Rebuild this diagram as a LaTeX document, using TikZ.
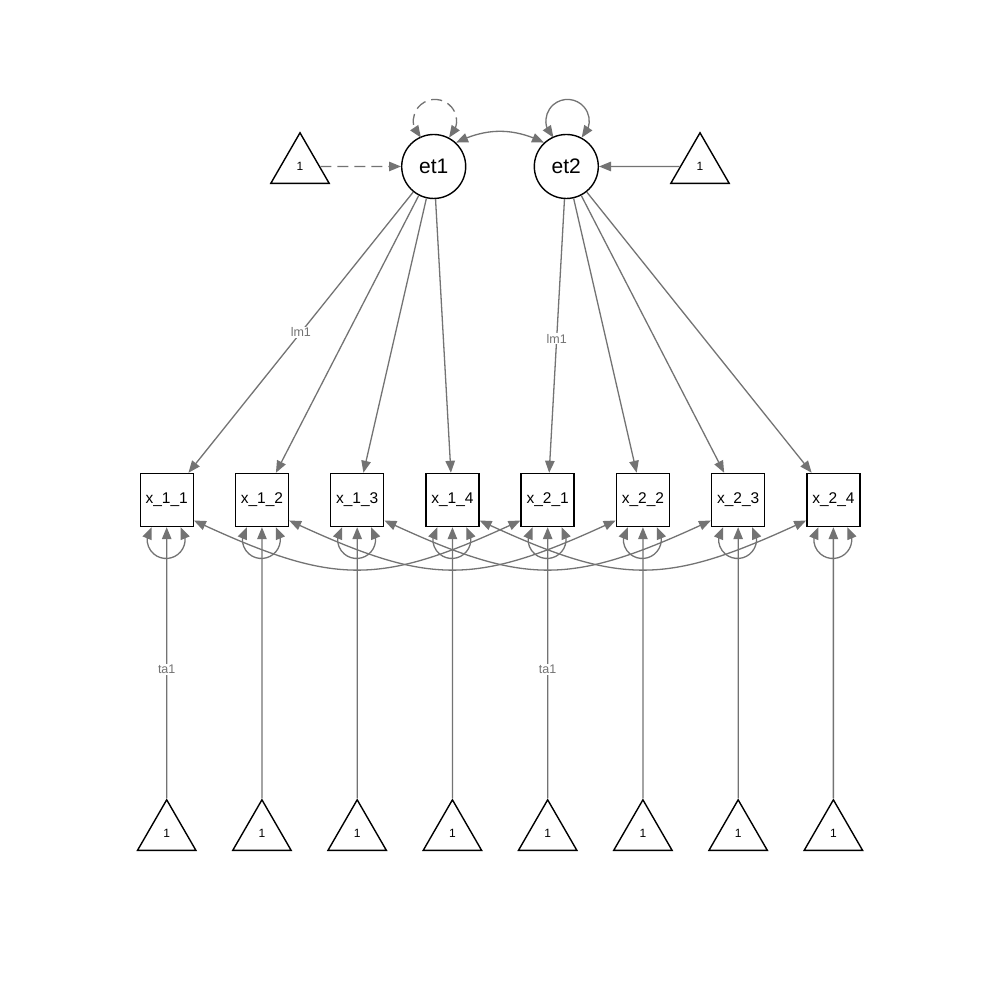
\documentclass[tikz,border=0pt]{standalone}
\usepackage{fontspec}
\setmainfont{Liberation Sans}
\usetikzlibrary{arrows.meta,bending,shapes.geometric}
\definecolor{edgegray}{RGB}{115,115,115}
\tikzset{
  latent/.style={circle,draw=black,line width=1.4pt,minimum size=64pt,inner sep=0pt,
    font=\fontsize{21}{25}\selectfont},
  manifest/.style={rectangle,draw=black,line width=1.4pt,minimum size=53pt,inner sep=0pt},
  itemtext/.style={font=\fontsize{15.5}{18}\selectfont},
  constant/.style={regular polygon,regular polygon sides=3,draw=black,line width=1.4pt,
    minimum size=67.4pt,inner sep=0pt,font=\fontsize{12}{14}\selectfont},
  onehead/.style={draw=edgegray,line width=1.3pt,
    -{Triangle[length=12pt,width=9.5pt,flex]}},
  twohead/.style={draw=edgegray,line width=1.3pt,
    {Triangle[length=12pt,width=9.5pt,flex]}-{Triangle[length=12pt,width=9.5pt,flex]}},
  dashedge/.style={dash pattern=on 11pt off 6pt},
  lbl/.style={fill=white,text=edgegray,inner sep=1pt,font=\fontsize{12.5}{14}\selectfont},
}
\begin{document}
\begin{tikzpicture}[x=1pt,y=1pt]
\useasboundingbox (0,0) rectangle (1000,1000);

% latent variables and their mean constants
\node[latent] (et1) at (433.7,833.5) {et1};
\node[latent] (et2) at (566.3,833.5) {et2};
\node[constant] (m1) at (300,833.5) {1};
\node[constant] (m2) at (700,833.5) {1};

% indicators with their intercept constants
\foreach \name/\txt [count=\i from 0] in {x11/x\_1\_1,x12/x\_1\_2,x13/x\_1\_3,x14/x\_1\_4,
    x21/x\_2\_1,x22/x\_2\_2,x23/x\_2\_3,x24/x\_2\_4}{
  \pgfmathsetmacro{\xx}{166.7+95.24*\i}
  \node[manifest,itemtext] (\name) at (\xx,500) {\txt};
  \node[constant] (c\name) at (\xx,166.5) {1};
}

% means of the latent variables
\draw[onehead,dashedge] (m1) -- (et1);
\draw[onehead] (m2) -- (et2);

% latent variances and covariance
\draw[twohead,dashedge] (et1.62) arc[start angle=-49.5,end angle=229.5,radius=21.7pt];
\draw[twohead] (et2.62) arc[start angle=-49.5,end angle=229.5,radius=21.7pt];
\draw[twohead] (et1.47) to[out=26,in=154] (et2.133);

% loadings
\draw[onehead] (et1) -- node[lbl,pos=0.5] {lm1} (x11);
\draw[onehead] (et1) -- (x12);
\draw[onehead] (et1) -- (x13);
\draw[onehead] (et1) -- (x14);
\draw[onehead] (et2) -- node[lbl,pos=0.51] {lm1} (x21);
\draw[onehead] (et2) -- (x22);
\draw[onehead] (et2) -- (x23);
\draw[onehead] (et2) -- (x24);

% intercepts
\draw[onehead] (cx11) -- node[lbl,pos=0.475] {ta1} (x11);
\draw[onehead] (cx12) -- (x12);
\draw[onehead] (cx13) -- (x13);
\draw[onehead] (cx14) -- (x14);
\draw[onehead] (cx21) -- node[lbl,pos=0.475] {ta1} (x21);
\draw[onehead] (cx22) -- (x22);
\draw[onehead] (cx23) -- (x23);
\draw[onehead] (cx24) -- (x24);

% residual variances
\foreach \name in {x11,x12,x13,x14,x21,x22,x23,x24}{
  \draw[twohead] (\name.241.5) arc[start angle=139.7,end angle=400.3,radius=19pt];
}

% residual covariances across occasions
\draw[twohead] (x11.-37) to[out=-25,in=-155,looseness=1.23] (x21.-143);
\draw[twohead] (x12.-37) to[out=-25,in=-155,looseness=1.23] (x22.-143);
\draw[twohead] (x13.-37) to[out=-25,in=-155,looseness=1.23] (x23.-143);
\draw[twohead] (x14.-37) to[out=-25,in=-155,looseness=1.23] (x24.-143);
\end{tikzpicture}
\end{document}
